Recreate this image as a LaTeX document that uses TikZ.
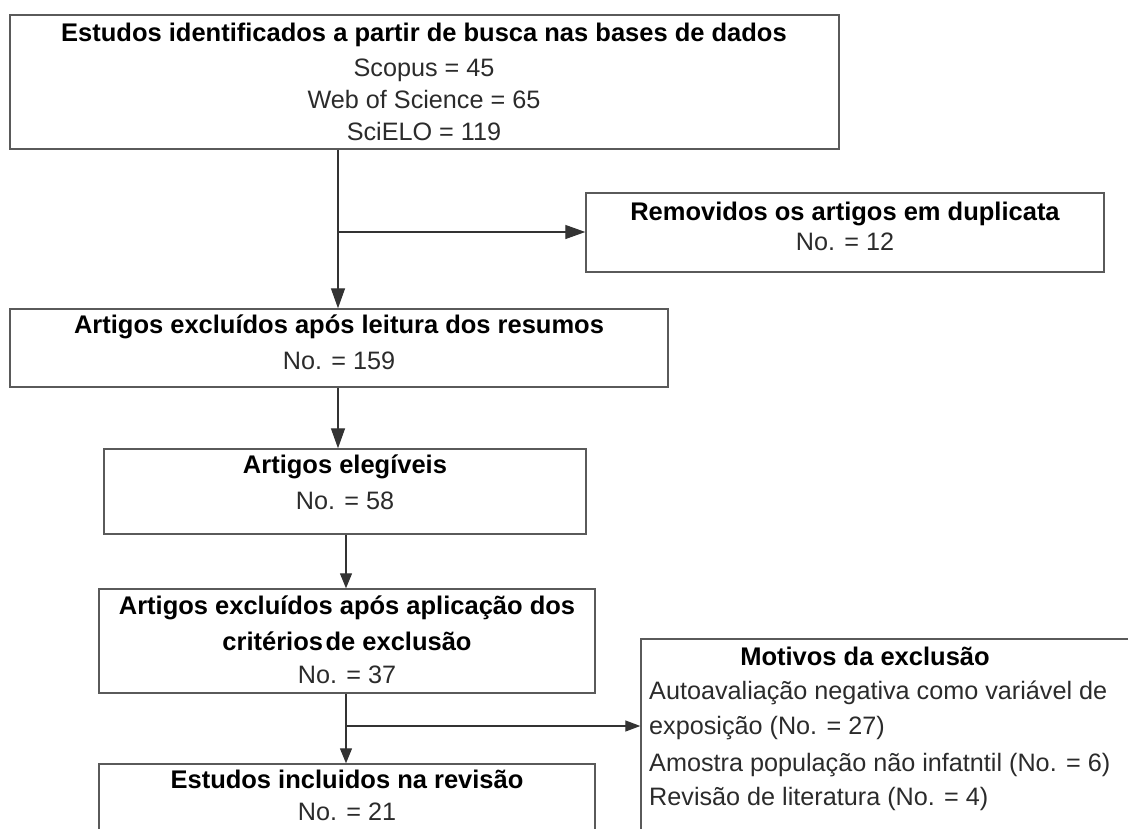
\documentclass[tikz,border=0pt]{standalone}
\usepackage{fontspec}
\setmainfont{Liberation Sans}
\usetikzlibrary{arrows.meta}
\definecolor{boxline}{HTML}{5A5A5A}
\definecolor{connc}{HTML}{333333}
\definecolor{txtc}{HTML}{2B2B2B}
\begin{document}
\begin{tikzpicture}[x=1pt,y=-1pt,
  box/.style={draw=boxline, line width=1.4pt, rectangle, inner sep=0pt},
  conn/.style={draw=connc, line width=1.3pt},
  arrbig/.style={conn, -{Triangle[length=20pt,width=14pt]}},
  arrmid/.style={conn, -{Triangle[length=15pt,width=12pt]}},
  arrsmall/.style={conn, -{Triangle[length=15pt,width=11pt]}},
  ttl/.style={font=\fontsize{25.5}{30}\selectfont\bfseries, text=black, anchor=base, inner sep=0pt},
  txt/.style={font=\fontsize{25.2}{30}\selectfont, text=txtc, anchor=base, inner sep=0pt},
  txtl/.style={txt, anchor=base west},
]
\useasboundingbox (0,0) rectangle (1128,828);
\clip (0,0) rectangle (1128,828);

% boxes
\node[box, minimum width=829pt, minimum height=134pt] (top) at (424.5,82) {};
\node[box, minimum width=518pt, minimum height=79pt] (rem) at (845,232.5) {};
\node[box, minimum width=658pt, minimum height=78pt] (b2) at (339,348) {};
\node[box, minimum width=482pt, minimum height=85pt] (b4) at (345,491.5) {};
\node[box, minimum width=496pt, minimum height=104pt] (b5) at (347,641) {};
\node[box, minimum width=496pt, minimum height=106pt] (b6) at (347,817) {};
\node[box, minimum width=539pt, minimum height=261pt] (b7) at (910.5,769.5) {};

% texts
\node[ttl] (t1) at (424,41) {Estudos identificados a partir de busca nas bases de dados};
\node[txt] (t1a) at (424,76) {Scopus = 45};
\node[txt] (t1b) at (424,108) {Web of Science = 65};
\node[txt] (t1c) at (424,140) {SciELO = 119};

\node[ttl] (tr) at (845,220) {Removidos os artigos em duplicata};
\node[txt] (tra) at (845,250) {No. = 12};

\node[ttl] (t2) at (339,333) {Artigos excluídos após leitura dos resumos};
\node[txt] (t2a) at (339,369) {No. = 159};

\node[ttl] (t4) at (345,473) {Artigos elegíveis};
\node[txt] (t4a) at (345,509) {No. = 58};

\node[ttl] (t5) at (347,614) {Artigos excluídos após aplicação dos};
\node[ttl] (t5b) at (347,650) {critérios\hspace{0.1em}de exclusão};
\node[txt] (t5a) at (347,683) {No. = 37};

\node[ttl] (t6) at (347,788) {Estudos incluidos na revisão};
\node[txt] (t6a) at (347,820) {No. = 21};

\node[ttl] (t7) at (865,665) {Motivos da exclusão};
\node[txtl] (t7a) at (649,699) {Autoavaliação negativa como variável de};
\node[txtl] (t7b) at (649,734) {exposição (No. = 27)};
\node[txtl] (t7c) at (649,771) {Amostra população não infatntil (No. = 6)};
\node[txtl] (t7d) at (649,805) {Revisão de literatura (No. = 4)};

% connectors
\coordinate (j1) at (338,232);
\coordinate (j2) at (346,726);
\draw[arrbig] (top.south -| j1) -- (b2.north -| j1);
\draw[arrbig] (j1) -- (rem.west |- j1);
\draw[arrbig] (b2.south -| j1) -- (b4.north -| j1);
\draw[arrmid] (b4.south -| j2) -- (b5.north -| j2);
\draw[arrmid] (b5.south -| j2) -- (b6.north -| j2);
\draw[arrsmall] (j2) -- (b7.west |- j2);
\end{tikzpicture}
\end{document}
